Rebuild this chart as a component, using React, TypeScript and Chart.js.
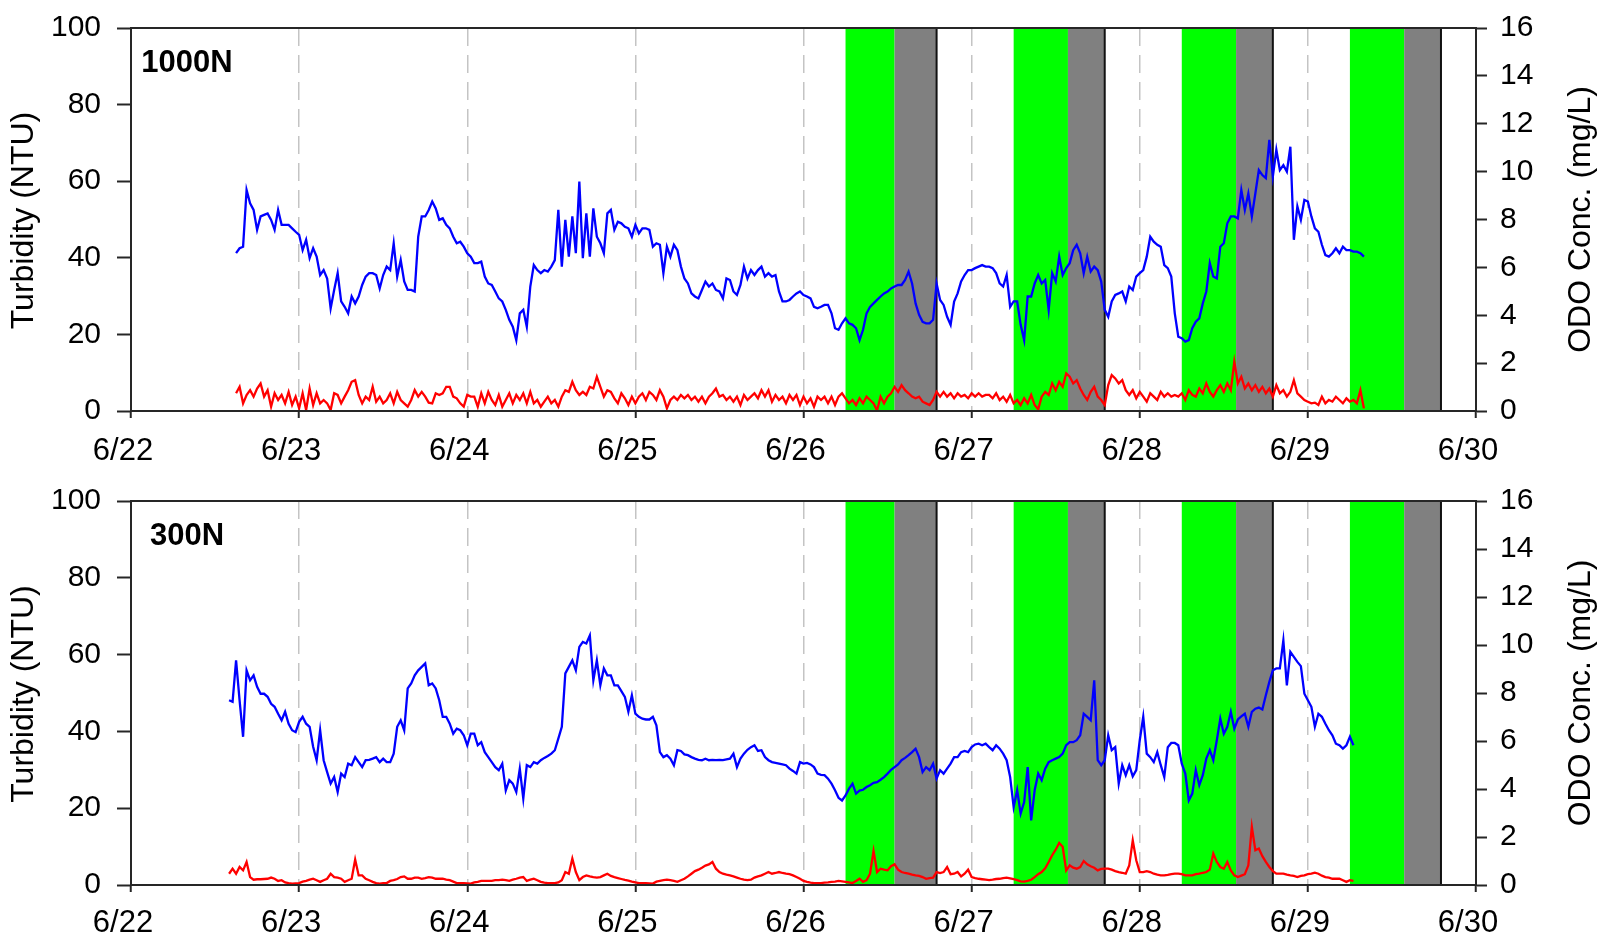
import React, { useEffect, useRef } from 'react';
import { Chart, registerables } from 'chart.js';

Chart.register(...registerables);

// ---------- data ----------
const dateLabels = ['6/22', '6/23', '6/24', '6/25', '6/26', '6/27', '6/28', '6/29', '6/30'];
const turbidityRange = { min: 0, max: 100, step: 20 };
const odoRange = { min: 0, max: 16, step: 2 };

// sampling: one reading every half hour, hours counted from 6/22 00:00
const sampleStepHours = 0.5;
const topStartHour = 15;
const bottomStartHour = 14;

// light periods (hours from 6/22 00:00)
const greenBands = [[102, 109], [126, 133.75], [150, 157.75], [174, 181.75]];
const greyBands = [[109, 115], [133.75, 139], [157.75, 163], [181.75, 187]];

const panelLabels = ['1000N', '300N'];

// 1000N – blue (NTU, left axis)
const topTurbidity = [
  41.2, 42.5, 42.9, 57.7, 54.2, 52.5, 47.3, 50.8, 51.2, 51.6,
  49.9, 47.3, 52.5, 48.6, 48.6, 48.6, 47.7, 46.8, 46.0, 42.0,
  44.7, 39.9, 42.5, 40.3, 35.5, 36.8, 34.6, 26.8, 31.6, 36.0,
  28.6, 27.2, 25.5, 29.9, 28.1, 29.9, 32.9, 35.1, 36.0, 36.0,
  35.5, 32.0, 35.5, 37.7, 36.8, 43.8, 35.1, 39.4, 33.8, 31.6,
  31.6, 31.2, 45.5, 50.8, 50.8, 52.5, 54.7, 52.9, 49.9, 50.3,
  48.6, 47.7, 45.5, 43.8, 44.2, 42.9, 41.2, 40.3, 38.6, 38.6,
  39.0, 35.1, 33.3, 32.9, 31.2, 29.4, 28.6, 26.4, 23.8, 22.0,
  18.5, 25.5, 26.4, 22.0, 32.5, 38.1, 36.8, 36.0, 36.8, 36.4,
  37.7, 39.4, 52.5, 37.7, 49.9, 40.3, 50.8, 41.2, 59.9, 39.9,
  51.6, 40.3, 52.9, 45.5, 43.8, 41.2, 51.6,
  52.5, 47.3, 49.4,
  49.0, 48.1, 47.7, 45.5, 48.6, 46.4, 47.7, 47.7, 47.3, 42.9,
  43.8, 43.4, 36.0, 42.9, 40.3, 43.4, 42.0, 37.7, 34.6, 33.3,
  30.7, 29.9, 29.4, 31.6, 33.8, 32.5, 33.3, 31.6, 31.2, 29.4,
  34.6, 34.2, 31.2, 30.3, 32.9, 37.7, 34.6, 36.8, 35.5, 36.8,
  37.7, 35.1, 36.0, 35.1, 35.5, 31.2, 28.6, 28.6, 29.0, 29.9,
  30.7, 31.2, 30.3, 29.9, 29.4, 27.2, 26.8, 27.2, 27.7, 27.7,
  25.5, 21.6, 21.2, 22.9, 24.2, 22.9, 22.5, 21.6, 18.5, 21.2,
  25.5, 27.2, 28.1, 29.0, 29.9, 30.7, 31.2, 32.0, 32.5, 32.9,
  32.9, 34.2, 36.4, 33.3, 28.1, 25.1, 23.3, 22.9, 22.9, 23.8,
  33.3, 29.0, 27.7, 24.6, 22.5, 28.6, 30.7, 33.8, 35.5, 36.8,
  36.8, 37.3, 37.7, 38.1, 37.7,
  37.7, 37.3, 36.0, 33.3, 32.5,
  35.5, 27.2, 28.6, 28.6, 22.5, 18.5, 29.9, 29.9, 33.3, 35.5,
  33.3, 34.2, 26.4, 36.0, 33.8, 40.3, 35.5, 37.3, 38.6, 42.0,
  43.4, 41.2, 36.0, 40.3, 36.4, 37.7, 36.8, 33.8, 26.4, 24.6,
  28.6, 30.3, 30.7, 31.2, 28.6, 32.5, 31.6, 35.1, 36.0, 36.8,
  40.3, 45.5, 44.2, 43.4, 42.9, 38.1, 37.3, 35.1, 25.5, 19.4,
  19.0, 18.1, 18.5, 21.6, 23.3, 24.2, 28.1, 31.2, 38.6, 35.1,
  34.6, 42.9, 43.8, 49.0, 50.8, 50.8, 50.3, 57.7, 52.5, 56.8,
  50.8, 56.8, 62.9, 61.6, 60.8, 70.8, 61.2, 68.2, 62.9, 64.2,
  62.5, 69.0, 44.7, 53.4, 49.9, 55.1, 54.7, 50.8, 47.7, 46.8,
  43.4, 40.7, 40.3, 41.2, 42.5, 41.2, 42.9, 42.0, 42.0, 41.6,
  41.6, 41.2, 40.3,
];

// 1000N – red (mg/L, right axis)
const topODO = [
  0.74, 1.01, 0.32, 0.67, 0.87, 0.60, 0.94, 1.15, 0.60, 0.87,
  0.18, 0.74, 0.46, 0.67, 0.32, 0.80, 0.25, 0.60, 0.11, 0.74,
  0.04, 0.94, 0.25, 0.74, 0.32, 0.46, 0.32, 0.04, 0.74, 0.67,
  0.32, 0.60, 0.87, 1.22, 1.29, 0.67, 0.32, 0.60, 0.46, 1.01,
  0.39, 0.60, 0.32, 0.46, 0.74, 0.32, 0.80, 0.46, 0.32, 0.18,
  0.46, 0.87, 0.60, 0.80, 0.60, 0.35, 0.32, 0.74, 0.67, 0.74,
  1.01, 1.01, 0.60, 0.53, 0.32, 0.18, 0.67, 0.60, 0.60, 0.18,
  0.74, 0.32, 0.80, 0.46, 0.25, 0.67, 0.18, 0.46, 0.74, 0.32,
  0.67, 0.46, 0.74, 0.32, 0.80, 0.32, 0.46, 0.18, 0.39, 0.60,
  0.32, 0.46, 0.18, 0.60, 0.87, 0.80, 1.22, 0.87, 0.67, 0.80,
  0.67, 1.01, 0.94, 1.43, 1.01, 0.60, 0.87,
  0.80, 0.53, 0.32,
  0.74, 0.53, 0.25, 0.60, 0.32, 0.60, 0.74, 0.46, 0.80, 0.67,
  0.46, 0.87, 0.60, 0.11, 0.46, 0.60, 0.46, 0.67, 0.53, 0.67,
  0.46, 0.60, 0.39, 0.60, 0.32, 0.60, 0.74, 0.94, 0.60, 0.67,
  0.46, 0.60, 0.39, 0.60, 0.25, 0.67, 0.46, 0.60, 0.74, 0.53,
  0.87, 0.60, 0.87, 0.39, 0.67, 0.46, 0.60, 0.32, 0.67, 0.46,
  0.67, 0.25, 0.60, 0.32, 0.53, 0.18, 0.60, 0.46, 0.60, 0.32,
  0.60, 0.25, 0.60, 0.74, 0.53, 0.32, 0.46, 0.25, 0.53, 0.32,
  0.60, 0.46, 0.32, 0.02, 0.60, 0.32, 0.60, 0.74, 1.01, 0.80,
  1.08, 0.87, 0.74, 0.60, 0.53, 0.60, 0.39, 0.32, 0.25, 0.46,
  0.80, 0.60, 0.80, 0.60, 0.74, 0.53, 0.74, 0.60, 0.67, 0.53,
  0.74, 0.60, 0.74, 0.60, 0.67,
  0.67, 0.53, 0.74, 0.46, 0.60,
  0.39, 0.67, 0.32, 0.46, 0.25, 0.53, 0.32, 0.67, 0.25, 0.07,
  0.60, 0.80, 0.67, 1.15, 0.87, 1.22, 1.01, 1.57, 1.43, 1.15,
  1.29, 0.94, 0.67, 0.46, 0.80, 1.01, 0.60, 0.46, 0.25, 1.08,
  1.50, 1.36, 1.15, 1.29, 0.87, 0.67, 0.87, 0.53, 0.80, 0.60,
  0.39, 0.74, 0.60, 0.46, 0.80, 0.60, 0.74, 0.60, 0.67, 0.60,
  0.74, 0.46, 0.87, 0.67, 0.60, 0.94, 0.74, 1.15, 0.80, 0.60,
  0.87, 1.08, 0.80, 1.15, 0.87, 2.06, 1.15, 1.43, 0.94, 1.15,
  0.87, 1.08, 0.80, 1.01, 0.74, 0.94, 0.60, 1.08, 0.74, 0.87,
  0.60, 0.80, 1.29, 0.74, 0.60, 0.46, 0.39, 0.32, 0.35, 0.25,
  0.60, 0.32, 0.46, 0.39, 0.60, 0.46, 0.32, 0.53, 0.39, 0.46,
  0.32, 0.87, 0.11,
];

// 300N – blue (NTU, left axis)
const bottomTurbidity = [
  48.1, 47.7, 58.5, 48.1, 38.6, 55.9, 53.3, 54.6, 51.6, 49.8,
  49.8, 49.0, 47.2, 46.4, 44.6, 42.9, 45.1, 42.0, 40.3, 39.8,
  42.5, 43.8, 42.0, 41.2, 36.0, 32.5, 40.3, 32.5, 29.4, 26.4,
  28.1, 24.2, 29.0, 28.1, 31.6, 31.2, 33.3, 32.0, 30.7, 32.5,
  32.6, 32.9, 33.3, 32.0, 32.9, 32.0, 32.0, 34.2, 41.2, 42.9,
  40.3, 51.2, 52.5, 54.6, 55.9, 56.8, 57.7, 52.0, 52.5, 51.2,
  48.1, 43.8, 43.8, 42.0, 39.4, 40.7, 40.3, 39.0, 36.4, 39.4,
  39.4, 36.4, 37.2, 34.6, 33.3, 32.0, 30.7, 29.9, 31.6, 24.6,
  27.3, 26.4, 24.2, 30.3, 22.5, 31.2, 30.7, 32.0, 31.6, 32.5,
  33.1, 33.6, 34.2, 35.1, 38.1, 41.2, 55.1, 56.8, 58.5, 55.9,
  62.0, 63.3, 62.9, 65.0, 53.3, 58.5, 52.0, 56.4, 54.6,
  54.6, 52.0, 52.0, 50.5, 49.0, 45.1, 49.4, 44.6, 43.8, 43.3, 43.1,
  43.1, 43.8, 41.6, 34.6, 33.3, 33.8, 32.9, 31.2, 35.1, 34.9,
  34.0, 33.8, 33.3, 32.9, 32.6, 32.5, 32.9, 32.5, 32.6, 32.5,
  32.6, 32.5, 32.7, 32.9, 34.2, 30.7, 32.9, 34.2, 35.2, 35.9,
  36.4, 34.9, 35.1, 33.3, 32.5, 32.0, 31.8, 31.6, 31.4, 31.2,
  30.3, 29.7, 29.0, 32.0, 31.6, 31.8, 31.4, 30.7, 29.0, 28.7,
  28.6, 27.7, 26.4, 24.7, 22.7, 22.0, 23.3, 25.1, 26.4, 23.8,
  24.6, 24.8, 25.5, 26.0, 26.6, 26.8, 27.4, 28.1, 29.0, 30.0,
  30.7, 31.4, 32.5, 33.1, 33.8, 34.6, 35.5, 33.3, 29.4, 30.7,
  29.9, 31.6, 27.7, 29.9, 29.0, 30.3, 31.6, 33.3, 33.3, 34.6,
  34.9, 34.6, 35.9, 36.6, 36.8, 36.4, 36.8,
  35.9, 35.1, 36.4,
  35.5, 34.2, 32.5, 28.1, 20.3, 24.7, 18.6, 21.6, 30.7, 16.8,
  24.7, 29.0, 27.3, 30.3, 32.0, 32.5, 32.9, 33.3, 34.2, 36.4,
  37.2, 37.2, 37.7, 39.0, 44.6, 43.8, 42.9, 53.3, 32.5, 31.2,
  32.5, 39.0, 35.1, 35.9, 26.4, 31.2, 28.6, 31.2, 28.3, 29.9,
  37.7, 43.8, 34.2, 33.3, 32.0, 34.6, 31.2, 28.1, 35.9, 37.0,
  37.0, 36.4, 31.6, 29.0, 22.0, 23.8, 29.9, 26.0, 28.6, 32.9,
  35.1, 32.5, 37.7, 43.3, 39.4, 41.2, 45.1, 40.7, 43.1, 43.9,
  44.6, 41.2, 45.1, 45.9, 46.2, 45.7, 49.4, 52.9, 55.9, 56.4,
  56.4, 63.7, 52.0, 60.7, 59.4, 58.1, 57.0, 49.8, 48.1, 46.4,
  41.2, 44.6, 43.8, 42.0, 40.3, 39.0, 36.8, 36.4, 35.5, 36.4,
  38.6, 36.4,
];

// 300N – red (mg/L, right axis)
const bottomODO = [
  0.47, 0.68, 0.47, 0.75, 0.61, 0.96, 0.33, 0.22, 0.24, 0.24,
  0.25, 0.26, 0.31, 0.26, 0.17, 0.20, 0.11, 0.08, 0.06, 0.07,
  0.08, 0.14, 0.17, 0.22, 0.26, 0.20, 0.13, 0.20, 0.26, 0.47,
  0.33, 0.31, 0.26, 0.13, 0.20, 0.26, 1.06, 0.40, 0.40, 0.26,
  0.20, 0.13, 0.08, 0.06, 0.08, 0.08, 0.17, 0.20, 0.25, 0.33,
  0.36, 0.26, 0.26, 0.31, 0.31, 0.26, 0.29, 0.33, 0.31, 0.26,
  0.26, 0.26, 0.22, 0.20, 0.14, 0.08, 0.08, 0.08, 0.07, 0.06,
  0.11, 0.13, 0.17, 0.17, 0.17, 0.17, 0.20, 0.20, 0.22, 0.20,
  0.17, 0.22, 0.26, 0.31, 0.33, 0.17, 0.22, 0.26, 0.20, 0.13,
  0.10, 0.08, 0.08, 0.08, 0.11, 0.20, 0.54, 0.47, 1.10, 0.54,
  0.20, 0.33, 0.40, 0.36, 0.33, 0.31, 0.33, 0.40, 0.47,
  0.38, 0.33, 0.29, 0.25, 0.21, 0.18, 0.14, 0.11, 0.08, 0.08, 0.08,
  0.07, 0.06, 0.14, 0.17, 0.20, 0.22, 0.20, 0.17, 0.13, 0.20,
  0.26, 0.36, 0.47, 0.58, 0.64, 0.72, 0.81, 0.86, 0.96, 0.68,
  0.54, 0.47, 0.43, 0.40, 0.36, 0.31, 0.26, 0.22, 0.20, 0.22,
  0.31, 0.36, 0.40, 0.47, 0.54, 0.47, 0.50, 0.54, 0.50, 0.47,
  0.45, 0.40, 0.33, 0.26, 0.17, 0.13, 0.10, 0.08, 0.08, 0.08,
  0.10, 0.11, 0.13, 0.14, 0.17, 0.15, 0.13, 0.11, 0.08, 0.17,
  0.26, 0.13, 0.20, 0.47, 1.42, 0.54, 0.68, 0.64, 0.61, 0.78,
  0.86, 0.64, 0.54, 0.50, 0.47, 0.43, 0.40, 0.38, 0.33, 0.26,
  0.29, 0.31, 0.54, 0.50, 0.54, 0.75, 0.45, 0.47, 0.54, 0.36,
  0.47, 0.64, 0.33, 0.29, 0.26, 0.24, 0.22,
  0.20, 0.22, 0.25,
  0.26, 0.29, 0.31, 0.28, 0.25, 0.20, 0.15, 0.14, 0.17, 0.22,
  0.33, 0.45, 0.54, 0.70, 0.96, 1.24, 1.47, 1.75, 1.59, 0.61,
  0.82, 0.72, 0.68, 0.75, 1.00, 0.86, 0.78, 0.72, 0.61, 0.67,
  0.68, 0.68, 0.64, 0.58, 0.54, 0.51, 0.47, 0.82, 1.86, 1.03,
  0.54, 0.54, 0.58, 0.54, 0.47, 0.43, 0.40, 0.40, 0.42, 0.45,
  0.47, 0.47, 0.45, 0.40, 0.40, 0.40, 0.45, 0.47, 0.51, 0.54,
  0.64, 1.31, 0.96, 0.75, 0.68, 0.96, 0.61, 0.40, 0.33, 0.39,
  0.45, 0.82, 2.42, 1.45, 1.52, 1.20, 0.96, 0.75, 0.58, 0.47,
  0.47, 0.47, 0.43, 0.40, 0.38, 0.33, 0.38, 0.40, 0.45, 0.47,
  0.51, 0.47, 0.39, 0.33, 0.31, 0.26, 0.26, 0.26, 0.20, 0.13,
  0.20, 0.17,
];

// ---------- drawing ----------
const FONT = '"Liberation Sans", Arial, Helvetica, sans-serif';
const AXIS_COLOR = '#262626';

const toPoints = (values: number[], startHour: number) =>
  values.map((v, i) => ({ x: (startHour + i * sampleStepHours) / 24, y: v }));

const bandsPlugin = {
  id: 'lightBands',
  beforeDatasetsDraw(chart: any) {
    const { ctx, chartArea, scales } = chart;
    const x = scales.x;
    const top = chartArea.top;
    const h = chartArea.bottom - chartArea.top;
    ctx.save();
    ctx.fillStyle = '#00ff00';
    greenBands.forEach(([a, b]) => {
      const x1 = x.getPixelForValue(a / 24);
      const x2 = x.getPixelForValue(b / 24);
      ctx.fillRect(x1, top, x2 - x1, h);
    });
    ctx.fillStyle = '#808080';
    greyBands.forEach(([a, b]) => {
      const x1 = x.getPixelForValue(a / 24);
      const x2 = x.getPixelForValue(b / 24);
      ctx.fillRect(x1, top, x2 - x1, h);
    });
    ctx.strokeStyle = '#111';
    ctx.lineWidth = 2;
    greyBands.forEach(([, b]) => {
      const x2 = x.getPixelForValue(b / 24);
      ctx.beginPath();
      ctx.moveTo(x2, top);
      ctx.lineTo(x2, chartArea.bottom);
      ctx.stroke();
    });
    ctx.restore();
  },
};

const textPlugin = {
  id: 'panelText',
  afterDraw(chart: any) {
    const { ctx, chartArea } = chart;
    const label = chart.options.plugins.panelText.label;
    const cy = (chartArea.top + chartArea.bottom) / 2;
    ctx.save();
    // top frame line
    ctx.strokeStyle = AXIS_COLOR;
    ctx.lineWidth = 2;
    ctx.beginPath();
    ctx.moveTo(chartArea.left, chartArea.top);
    ctx.lineTo(chartArea.right, chartArea.top);
    ctx.stroke();
    ctx.fillStyle = '#000';
    ctx.textAlign = 'center';
    ctx.textBaseline = 'middle';
    ctx.font = `bold 31px ${FONT}`;
    ctx.fillText(label, 187, 63);
    ctx.font = `32px ${FONT}`;
    ctx.save();
    ctx.translate(24, cy + 1);
    ctx.rotate(-Math.PI / 2);
    ctx.fillText('Turbidity (NTU)', 0, 0);
    ctx.restore();
    ctx.save();
    ctx.translate(1581, cy);
    ctx.rotate(-Math.PI / 2);
    ctx.fillText('ODO Conc. (mg/L)', 0, 0);
    ctx.restore();
    ctx.restore();
  },
};

type PanelProps = {
  label: string;
  turbidity: number[];
  odo: number[];
  startHour: number;
  height: number;
  top: number;
  xAxisHeight: number;
  xLabelPad: number;
};

const noVerticalPadding = (s: any, width: number) => {
  s.width = width;
  s.paddingTop = 0;
  s.paddingBottom = 0;
};

function Panel({ label, turbidity, odo, startHour, height, top, xAxisHeight, xLabelPad }: PanelProps) {
  const ref = useRef<HTMLCanvasElement | null>(null);
  useEffect(() => {
    if (!ref.current) return;
    const tickFont = { family: FONT, size: 30 };
    const chart = new Chart(ref.current, {
      type: 'line',
      data: {
        datasets: [
          {
            label: 'Turbidity',
            data: toPoints(turbidity, startHour),
            borderColor: '#0000ff',
            borderWidth: 2.3,
            yAxisID: 'yL',
            pointRadius: 0,
            tension: 0,
          },
          {
            label: 'ODO',
            data: toPoints(odo, startHour),
            borderColor: '#ff0000',
            borderWidth: 2.3,
            yAxisID: 'yR',
            pointRadius: 0,
            tension: 0,
          },
        ],
      },
      options: {
        animation: false,
        responsive: false,
        maintainAspectRatio: false,
        layout: { padding: { top: 28, left: 0, right: 0, bottom: 0 } },
        plugins: {
          legend: { display: false },
          tooltip: { enabled: false },
          panelText: { label },
        } as any,
        scales: {
          x: {
            type: 'linear',
            position: 'bottom',
            min: 0,
            max: dateLabels.length - 1,
            afterFit: (s: any) => { s.height = xAxisHeight; },
            ticks: {
              stepSize: 1,
              autoSkip: false,
              maxRotation: 0,
              color: '#000',
              font: { family: FONT, size: 31 },
              padding: xLabelPad,
              labelOffset: -8,
              callback: (v: any) => dateLabels[Math.round(Number(v))] ?? '',
            },
            grid: {
              color: (c: any) => {
                const v = c.tick ? c.tick.value : -1;
                return v <= 0 || v >= dateLabels.length - 1 ? 'rgba(0,0,0,0)' : '#c4c4c4';
              },
              lineWidth: 1.5,
              drawTicks: true,
              tickLength: 7,
              tickColor: AXIS_COLOR,
              tickWidth: 2,
              tickBorderDash: [],
            },
            border: { display: true, color: AXIS_COLOR, width: 2, dash: [18, 9], z: 1 },
          },
          yL: {
            type: 'linear',
            position: 'left',
            min: turbidityRange.min,
            max: turbidityRange.max,
            afterFit: (s: any) => noVerticalPadding(s, 131),
            ticks: { stepSize: turbidityRange.step, color: '#000', font: tickFont, padding: 16 },
            grid: { drawOnChartArea: false, tickLength: 14, tickColor: AXIS_COLOR, tickWidth: 2 },
            border: { display: true, color: AXIS_COLOR, width: 2, z: 1 },
          },
          yR: {
            type: 'linear',
            position: 'right',
            min: odoRange.min,
            max: odoRange.max,
            afterFit: (s: any) => noVerticalPadding(s, 123),
            ticks: { stepSize: odoRange.step, color: '#000', font: tickFont, padding: 13 },
            grid: { drawOnChartArea: false, tickLength: 11, tickColor: AXIS_COLOR, tickWidth: 2 },
            border: { display: true, color: AXIS_COLOR, width: 2, z: 1 },
          },
        },
      } as any,
      plugins: [bandsPlugin, textPlugin],
    });
    return () => chart.destroy();
  }, [label, turbidity, odo, startHour, xAxisHeight, xLabelPad]);

  return (
    <canvas
      ref={ref}
      width={1599}
      height={height}
      style={{ position: 'absolute', left: 0, top, width: 1599, height, display: 'block' }}
    />
  );
}

export default function App() {
  return (
    <div style={{ position: 'fixed', left: 0, top: 0, width: 1599, height: 939, background: '#fff', overflow: 'hidden' }}>
      <Panel label={panelLabels[0]} turbidity={topTurbidity} odo={topODO} startHour={topStartHour} height={470} top={0} xAxisHeight={59} xLabelPad={15} />
      <Panel label={panelLabels[1]} turbidity={bottomTurbidity} odo={bottomODO} startHour={bottomStartHour} height={466} top={473} xAxisHeight={54} xLabelPad={13} />
    </div>
  );
}
